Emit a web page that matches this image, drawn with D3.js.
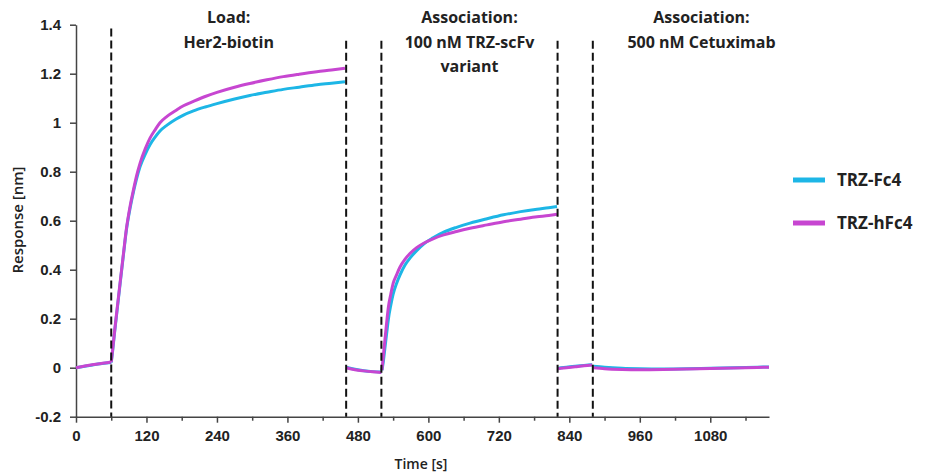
<!DOCTYPE html>
<html>
<head>
<meta charset="utf-8">
<script src="https://cdn.jsdelivr.net/npm/d3@7"></script>
<style>
  body { margin: 0; background: #fff; }
  svg { font-family: "Open Sans", sans-serif; }
  .tick text { font-size: 15px; font-weight: 700; fill: #222; }
  .domain, .tick line { stroke: #444; stroke-width: 1.5px; }
</style>
</head>
<body>
<svg width="927" height="476"></svg>
<script>
//Series names
const seriesNames = ["TRZ-Fc4", "TRZ-hFc4"];

//Time points of each step [s]
const stepTimes = [
  [0, 15, 30, 45, 60],
  [60, 62, 66, 70, 75, 81, 86, 92, 98, 103, 109, 118, 126, 135, 143, 155, 170, 183, 200, 220, 240, 270, 296, 325, 353, 380, 410, 435, 458],
  [460, 475, 490, 505, 520],
  [521, 523, 526, 529, 532, 536, 540, 546, 552, 560, 569, 580, 592, 608, 626, 648, 671, 700, 728, 757, 785, 805, 819],
  [821, 835, 850, 865, 879],
  [881, 900, 930, 960, 1000, 1040, 1080, 1120, 1160, 1180]
];

//Response of TRZ-Fc4 [nm]
const fc4Values = [
  [0.0, 0.006, 0.012, 0.017, 0.021],
  [0.021, 0.06, 0.15, 0.235, 0.34, 0.465, 0.565, 0.65, 0.72, 0.77, 0.82, 0.872, 0.91, 0.942, 0.966, 0.99, 1.014, 1.031, 1.048, 1.064, 1.078, 1.097, 1.111, 1.124, 1.136, 1.145, 1.155, 1.161, 1.167],
  [0.002, -0.006, -0.012, -0.016, -0.018],
  [-0.01, 0.02, 0.08, 0.14, 0.2, 0.255, 0.3, 0.345, 0.38, 0.418, 0.448, 0.478, 0.505, 0.53, 0.553, 0.573, 0.59, 0.608, 0.624, 0.637, 0.647, 0.653, 0.658],
  [-0.002, 0.002, 0.006, 0.009, 0.012],
  [0.006, 0.002, -0.002, -0.004, -0.005, -0.004, -0.002, 0.0, 0.002, 0.003]
];

//Response of TRZ-hFc4 [nm]
const hfc4Values = [
  [0.0, 0.007, 0.013, 0.018, 0.023],
  [0.023, 0.065, 0.155, 0.24, 0.345, 0.47, 0.57, 0.658, 0.728, 0.782, 0.834, 0.894, 0.937, 0.972, 1.0, 1.026, 1.05, 1.069, 1.087, 1.107, 1.124, 1.145, 1.16, 1.175, 1.188, 1.198, 1.208, 1.215, 1.222],
  [0.0, -0.008, -0.013, -0.017, -0.02],
  [-0.01, 0.04, 0.113, 0.185, 0.249, 0.3, 0.344, 0.38, 0.412, 0.442, 0.467, 0.49, 0.508, 0.526, 0.542, 0.556, 0.569, 0.583, 0.596, 0.606, 0.616, 0.621, 0.626],
  [-0.004, 0.0, 0.004, 0.008, 0.011],
  [0.0, -0.004, -0.007, -0.008, -0.007, -0.005, -0.003, -0.001, 0.001, 0.002]
];

//Step boundaries (dashed lines) and where they end on top
const boundaryTimes = [60, 460, 520, 820, 880];
const boundaryTops = [1.385, 1.335, 1.335, 1.335, 1.335];

//Step labels
const stepLabels = [
  ["Load:", "Her2-biotin"],
  ["Association:", "100 nM TRZ-scFv", "variant"],
  ["Association:", "500 nM Cetuximab"]
];
const stepLabelTimes = [260, 670, 1065];

//Axis ticks
const xTicks = [0, 120, 240, 360, 480, 600, 720, 840, 960, 1080];
const xMinorTicks = [60, 180, 300, 420, 540, 660, 780, 900, 1020, 1140];
const yTicks = [-0.2, 0, 0.2, 0.4, 0.6, 0.8, 1, 1.2, 1.4];
const yTickLabels = ["-0.2", "0", "0.2", "0.4", "0.6", "0.8", "1", "1.2", "1.4"];

const colors = ["#1db6e6", "#c746d1"];

//Plot area (in px)
const plotLeft = 76, plotRight = 769, plotTop = 24.7, plotBottom = 416.7;

const svg = d3.select("svg");

let xScale = d3.scaleLinear().domain([0, 1180]).range([plotLeft, plotRight]);
let yScale = d3.scaleLinear().domain([-0.2, 1.4]).range([plotBottom, plotTop]);

//Minor x ticks
svg.append("g")
  .attr("transform", `translate(0, ${plotBottom})`)
  .call(d3.axisBottom(xScale).tickValues(xMinorTicks).tickSize(4).tickFormat(""))
  .call(g => g.select(".domain").remove());

//x-axis
svg.append("g")
  .attr("id", "x-axis")
  .attr("transform", `translate(0, ${plotBottom})`)
  .call(d3.axisBottom(xScale).tickValues(xTicks).tickSize(6).tickSizeOuter(0).tickPadding(8)
    .tickFormat(d => String(d)));

//y-axis
svg.append("g")
  .attr("id", "y-axis")
  .attr("transform", `translate(${plotLeft}, 0)`)
  .call(d3.axisLeft(yScale).tickValues(yTicks).tickSize(6).tickSizeOuter(0).tickPadding(9)
    .tickFormat((d, i) => yTickLabels[i]));

//Axis titles
svg.append("text")
  .attr("x", 421).attr("y", 469)
  .attr("text-anchor", "middle")
  .style("font-size", "14px").style("font-weight", 600).style("fill", "#222")
  .text("Time [s]");

svg.append("text")
  .attr("transform", "translate(23, 220) rotate(-90)")
  .attr("text-anchor", "middle")
  .style("font-size", "15px").style("font-weight", 600).style("fill", "#222")
  .text("Response [nm]");

//Curves, one path per step
const line = d3.line()
  .x(d => xScale(d[0]))
  .y(d => yScale(d[1]))
  .curve(d3.curveMonotoneX);

[fc4Values, hfc4Values].forEach((series, s) => {
  svg.append("g")
    .selectAll("path")
    .data(series.map((vals, i) => vals.map((v, j) => [stepTimes[i][j], v])))
    .enter()
    .append("path")
    .attr("d", line)
    .attr("fill", "none")
    .attr("stroke", colors[s])
    .attr("stroke-width", 3)
    .attr("stroke-linejoin", "round");
});

//Dashed step boundaries
svg.append("g")
  .selectAll("line")
  .data(boundaryTimes)
  .enter()
  .append("line")
  .attr("x1", d => xScale(d))
  .attr("x2", d => xScale(d))
  .attr("y1", (d, i) => yScale(boundaryTops[i]))
  .attr("y2", yScale(-0.2))
  .attr("stroke", "#111")
  .attr("stroke-width", 2)
  .attr("stroke-dasharray", "8,4");

//Step labels
stepLabels.forEach((lines, i) => {
  svg.append("text")
    .attr("text-anchor", "middle")
    .style("font-size", "16px").style("font-weight", 700).style("fill", "#222")
    .selectAll("tspan")
    .data(lines)
    .enter()
    .append("tspan")
    .attr("x", xScale(stepLabelTimes[i]))
    .attr("y", (d, j) => 23 + j * 24.5)
    .text(d => d);
});

//Legend
const legend = svg.append("g")
  .selectAll("g")
  .data(seriesNames)
  .enter()
  .append("g")
  .attr("transform", (d, i) => `translate(793, ${180 + i * 43})`);

legend.append("line")
  .attr("x1", 0).attr("x2", 32)
  .attr("stroke", (d, i) => colors[i])
  .attr("stroke-width", 5);

legend.append("text")
  .attr("x", 44).attr("y", 6)
  .style("font-size", "17px").style("font-weight", 700).style("fill", "#222")
  .text(d => d);
</script>
</body>
</html>
